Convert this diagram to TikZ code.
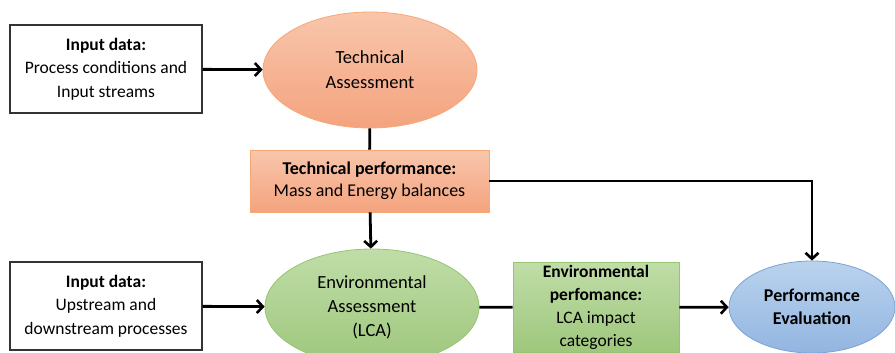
\documentclass[tikz,border=0pt]{standalone}
\usepackage{fontspec}
\setmainfont{Carlito}
\usetikzlibrary{arrows.meta,positioning,shapes.geometric}
\definecolor{orangetop}{RGB}{248,198,172}
\definecolor{orangebot}{RGB}{244,163,126}
\definecolor{orangeline}{RGB}{246,168,118}
\definecolor{greentop}{RGB}{192,221,168}
\definecolor{greenbot}{RGB}{158,199,124}
\definecolor{greenline}{RGB}{150,196,112}
\definecolor{bluetop}{RGB}{186,211,238}
\definecolor{bluebot}{RGB}{146,181,224}
\definecolor{blueline}{RGB}{122,162,212}
\tikzstyle{every flow} = []
\tikzstyle{flow} = [line width=2.8pt, -{Straight Barb[length=6pt,width=13pt,line width=2.6pt]}, every flow]
\tikzstyle{plain} = [line width=2.8pt]

\begin{document}
\begin{tikzpicture}[x=1pt, y=-1pt, font=\fontsize{18}{24}\selectfont, align=center]
        \tikzstyle{inputbox} = [draw=black!80, line width=1.2pt, fill=white, minimum width=192pt, minimum height=88pt, inner sep=0pt, font=\fontsize{17.5}{23.5}\selectfont]
        \tikzstyle{stage} = [ellipse, minimum width=214pt, minimum height=116pt, inner sep=0pt, line width=0.8pt]
        \tikzstyle{result} = [rectangle, inner sep=0pt, line width=0.8pt]
        \useasboundingbox (0,0) rectangle (895,353);

        % inputs on the left
        \node[inputbox] (procin) at (106,69) {\textbf{Input data:}\\Process conditions and\\Input streams};
        \node[inputbox] (lcain) at (106,306) {\textbf{Input data:}\\Upstream and\\downstream processes};

        % assessments
        \node[stage, draw=orangeline, top color=orangetop, bottom color=orangebot, font=\fontsize{18.5}{25}\selectfont] (tech) at (370,70) {Technical\\Assessment};
        \node[stage, draw=greenline, top color=greentop, bottom color=greenbot, font=\fontsize{18.5}{24}\selectfont] (env) at (372,307) {Environmental\\Assessment\\(LCA)};

        % performance results
        \node[result, draw=orangeline, top color=orangetop, bottom color=orangebot, minimum width=239pt, minimum height=62pt, font=\fontsize{18}{22}\selectfont] (techperf) at (369.5,181) {\textbf{Technical performance:}\\Mass and Energy balances};
        \node[result, draw=greenline, top color=greentop, bottom color=greenbot, minimum width=166pt, minimum height=90pt, font=\fontsize{17.5}{23}\selectfont] (envperf) at (596,307.5) {\textbf{Environmental}\\\textbf{perfomance:}\\LCA impact\\categories};

        \node[ellipse, draw=blueline, line width=0.8pt, top color=bluetop, bottom color=bluebot, minimum width=166pt, minimum height=92pt, inner sep=0pt, font=\fontsize{18}{23}\selectfont] (evaluation) at (812,307) {\textbf{Performance}\\\textbf{Evaluation}};

        \draw[flow] (procin) -- (tech);
        \draw[flow] (lcain) -- (env);
        \draw[plain] (tech) -- (techperf);
        \draw[flow] (techperf) -- (env);
        \draw[plain] (env) -- (envperf);
        \draw[flow] (envperf) -- (evaluation);
        \draw[flow] (techperf.east) -| (evaluation.north);
\end{tikzpicture}
\end{document}
